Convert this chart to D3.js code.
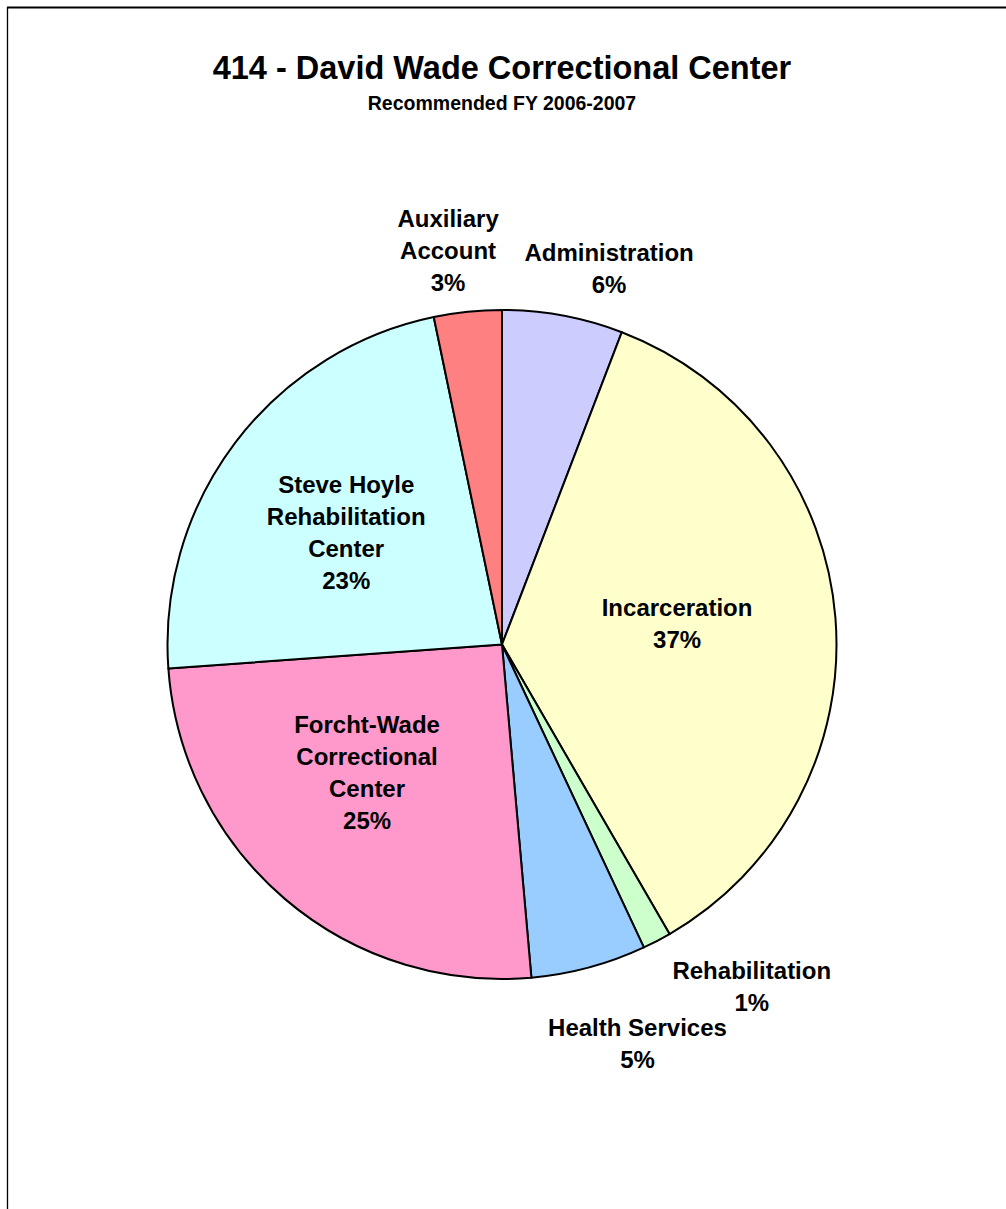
<!DOCTYPE html>
<html>
<head>
<meta charset="utf-8">
<script src="https://cdn.jsdelivr.net/npm/d3@7"></script>
<style>
  body { margin: 0; background: #fff; }
  text { font-family: "Liberation Sans", Arial, sans-serif; font-weight: bold; fill: #000; }
</style>
</head>
<body>
<div id="piechart"></div>
<script>
// slice data, clockwise from 12 o'clock
const categories = ["Administration", "Incarceration", "Rehabilitation", "Health Services",
  "Forcht-Wade Correctional Center", "Steve Hoyle Rehabilitation Center", "Auxiliary Account"]
const values = [5.83, 35.82, 1.38, 5.57, 25.26, 22.87, 3.27]
const pctLabels = ["6%", "37%", "1%", "5%", "25%", "23%", "3%"]
// how each label is broken into lines
const labelLines = [
  ["Administration"],
  ["Incarceration"],
  ["Rehabilitation"],
  ["Health Services"],
  ["Forcht-Wade", "Correctional", "Center"],
  ["Steve Hoyle", "Rehabilitation", "Center"],
  ["Auxiliary", "Account"]
]
const colors = ["#CCCCFF", "#FFFFCC", "#CCFFCC", "#99CCFF", "#FF99CC", "#CCFFFF", "#FF8080"]

function main(){
  const width = 1006
  const height = 1209
  const cx = 502, cy = 644.5
  const radius = 334.5

  const svg = d3.select("#piechart")
    .append("svg")
    .attr("width", width)
    .attr("height", height)

  // chart area frame (only top and left edges are inside the page)
  svg.append("line").attr("x1", 7).attr("x2", width).attr("y1", 7.5).attr("y2", 7.5)
    .attr("stroke", "#000").attr("stroke-width", 2)
  svg.append("line").attr("x1", 7.5).attr("x2", 7.5).attr("y1", 7).attr("y2", height)
    .attr("stroke", "#000").attr("stroke-width", 1.3)

  // titles
  svg.append("text")
    .attr("x", cx).attr("y", 79)
    .attr("text-anchor", "middle")
    .style("font-size", "32.5px")
    .text("414 - David Wade Correctional Center")
  svg.append("text")
    .attr("x", cx).attr("y", 110)
    .attr("text-anchor", "middle")
    .style("font-size", "19.5px")
    .text("Recommended FY 2006-2007")

  const data = categories.map((c, i) => ({name: c, value: values[i], pct: pctLabels[i],
    lines: labelLines[i].concat([pctLabels[i]]), color: colors[i]}))

  const pie = d3.pie().value(d => d.value).sort(null)
  const arcs = pie(data)
  const arc = d3.arc().innerRadius(0).outerRadius(radius)

  const g = svg.append("g").attr("transform", `translate(${cx},${cy})`)

  g.selectAll("path")
    .data(arcs)
    .join("path")
    .attr("d", arc)
    .attr("fill", d => d.data.color)
    .attr("stroke", "#000")
    .attr("stroke-width", 2)
    .attr("stroke-linejoin", "round")

  // label placement: radius (in units of pie radius) and angle nudge (degrees) from slice middle
  const labelRadius = [1.169, 0.527, 1.265, 1.259, 0.555, 0.574, 1.19]
  const labelNudge = [5.4, -2.2, -8.6, -3.7, 6.2, -1.3, -1.9]
  const lineH = 32

  const labels = g.selectAll("g.label")
    .data(arcs)
    .join("g")
    .attr("class", "label")
    .attr("transform", (d, i) => {
      const a = (d.startAngle + d.endAngle) / 2 + labelNudge[i] * Math.PI / 180
      const r = labelRadius[i] * radius
      return `translate(${r * Math.sin(a)},${-r * Math.cos(a)})`
    })

  labels.each(function(d){
    const n = d.data.lines.length
    d3.select(this).selectAll("text")
      .data(d.data.lines)
      .join("text")
      .attr("text-anchor", "middle")
      .attr("y", (t, j) => (j - (n - 1) / 2) * lineH)
      .attr("dy", "0.36em")
      .style("font-size", "24px")
      .text(t => t)
  })
}
main();
</script>
</body>
</html>
